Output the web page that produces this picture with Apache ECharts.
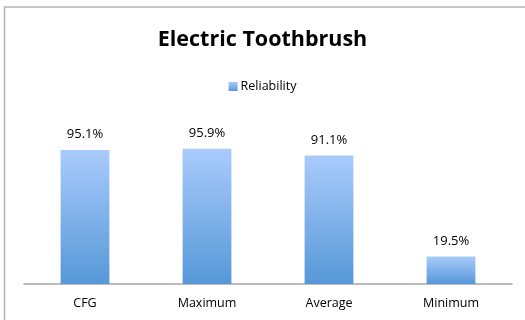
<!DOCTYPE html>
<html>
<head>
<meta charset="utf-8">
<script src="https://cdn.jsdelivr.net/npm/echarts@6/dist/echarts.min.js"></script>
<style>
  html, body { margin: 0; padding: 0; background: #fff; overflow: hidden; }
  #chart { width: 525px; height: 320px; }
</style>
</head>
<body>
<div id="chart"></div>
<script>
// data
var categories = ['CFG', 'Maximum', 'Average', 'Minimum'];
var reliability = [95.1, 95.9, 91.1, 19.5];
var seriesName = 'Reliability';

var chart = echarts.init(document.getElementById('chart'), null, { renderer: 'canvas' });

var barColor = new echarts.graphic.LinearGradient(0, 0, 0, 1, [
  { offset: 0, color: '#a9cbfc' },
  { offset: 1, color: '#5698d8' }
]);

chart.setOption({
  animation: false,
  backgroundColor: '#fff',
  textStyle: { fontFamily: 'Open Sans' },
  // chart frame: only the top and left edges show in the crop
  graphic: [{
    type: 'polyline',
    shape: { points: [[4.5, 330], [4.5, 7], [530, 7]] },
    style: { fill: 'none', stroke: '#b4b4b4', lineWidth: 1.5 },
    silent: true
  }],
  title: {
    text: 'Electric Toothbrush',
    left: 'center',
    top: 24,
    textStyle: { fontSize: 21.5, fontWeight: 'bold', color: '#000', fontFamily: 'Open Sans' }
  },
  legend: {
    data: [seriesName],
    top: 75,
    left: 'center',
    icon: 'rect',
    itemWidth: 9,
    itemHeight: 9,
    itemGap: 5,
    textStyle: { fontSize: 12.5, color: '#000', padding: [0, 0, 0, -2] }
  },
  grid: { left: 24, right: 13, top: 143, bottom: 36, containLabel: false },
  xAxis: {
    type: 'category',
    data: categories,
    axisLine: { lineStyle: { color: '#a6a6a6', width: 1.5 } },
    axisTick: { show: false },
    axisLabel: { color: '#000', fontSize: 12.5, margin: 13 }
  },
  yAxis: {
    type: 'value',
    min: 0,
    max: 100,
    show: false,
    splitLine: { show: false }
  },
  series: [{
    name: seriesName,
    type: 'bar',
    data: reliability,
    barWidth: '40%',
    itemStyle: { color: barColor },
    label: {
      show: true,
      position: 'top',
      distance: 9,
      color: '#000',
      fontSize: 13,
      formatter: function (p) { return p.value.toFixed(1) + '%'; }
    }
  }]
});
</script>
</body>
</html>
